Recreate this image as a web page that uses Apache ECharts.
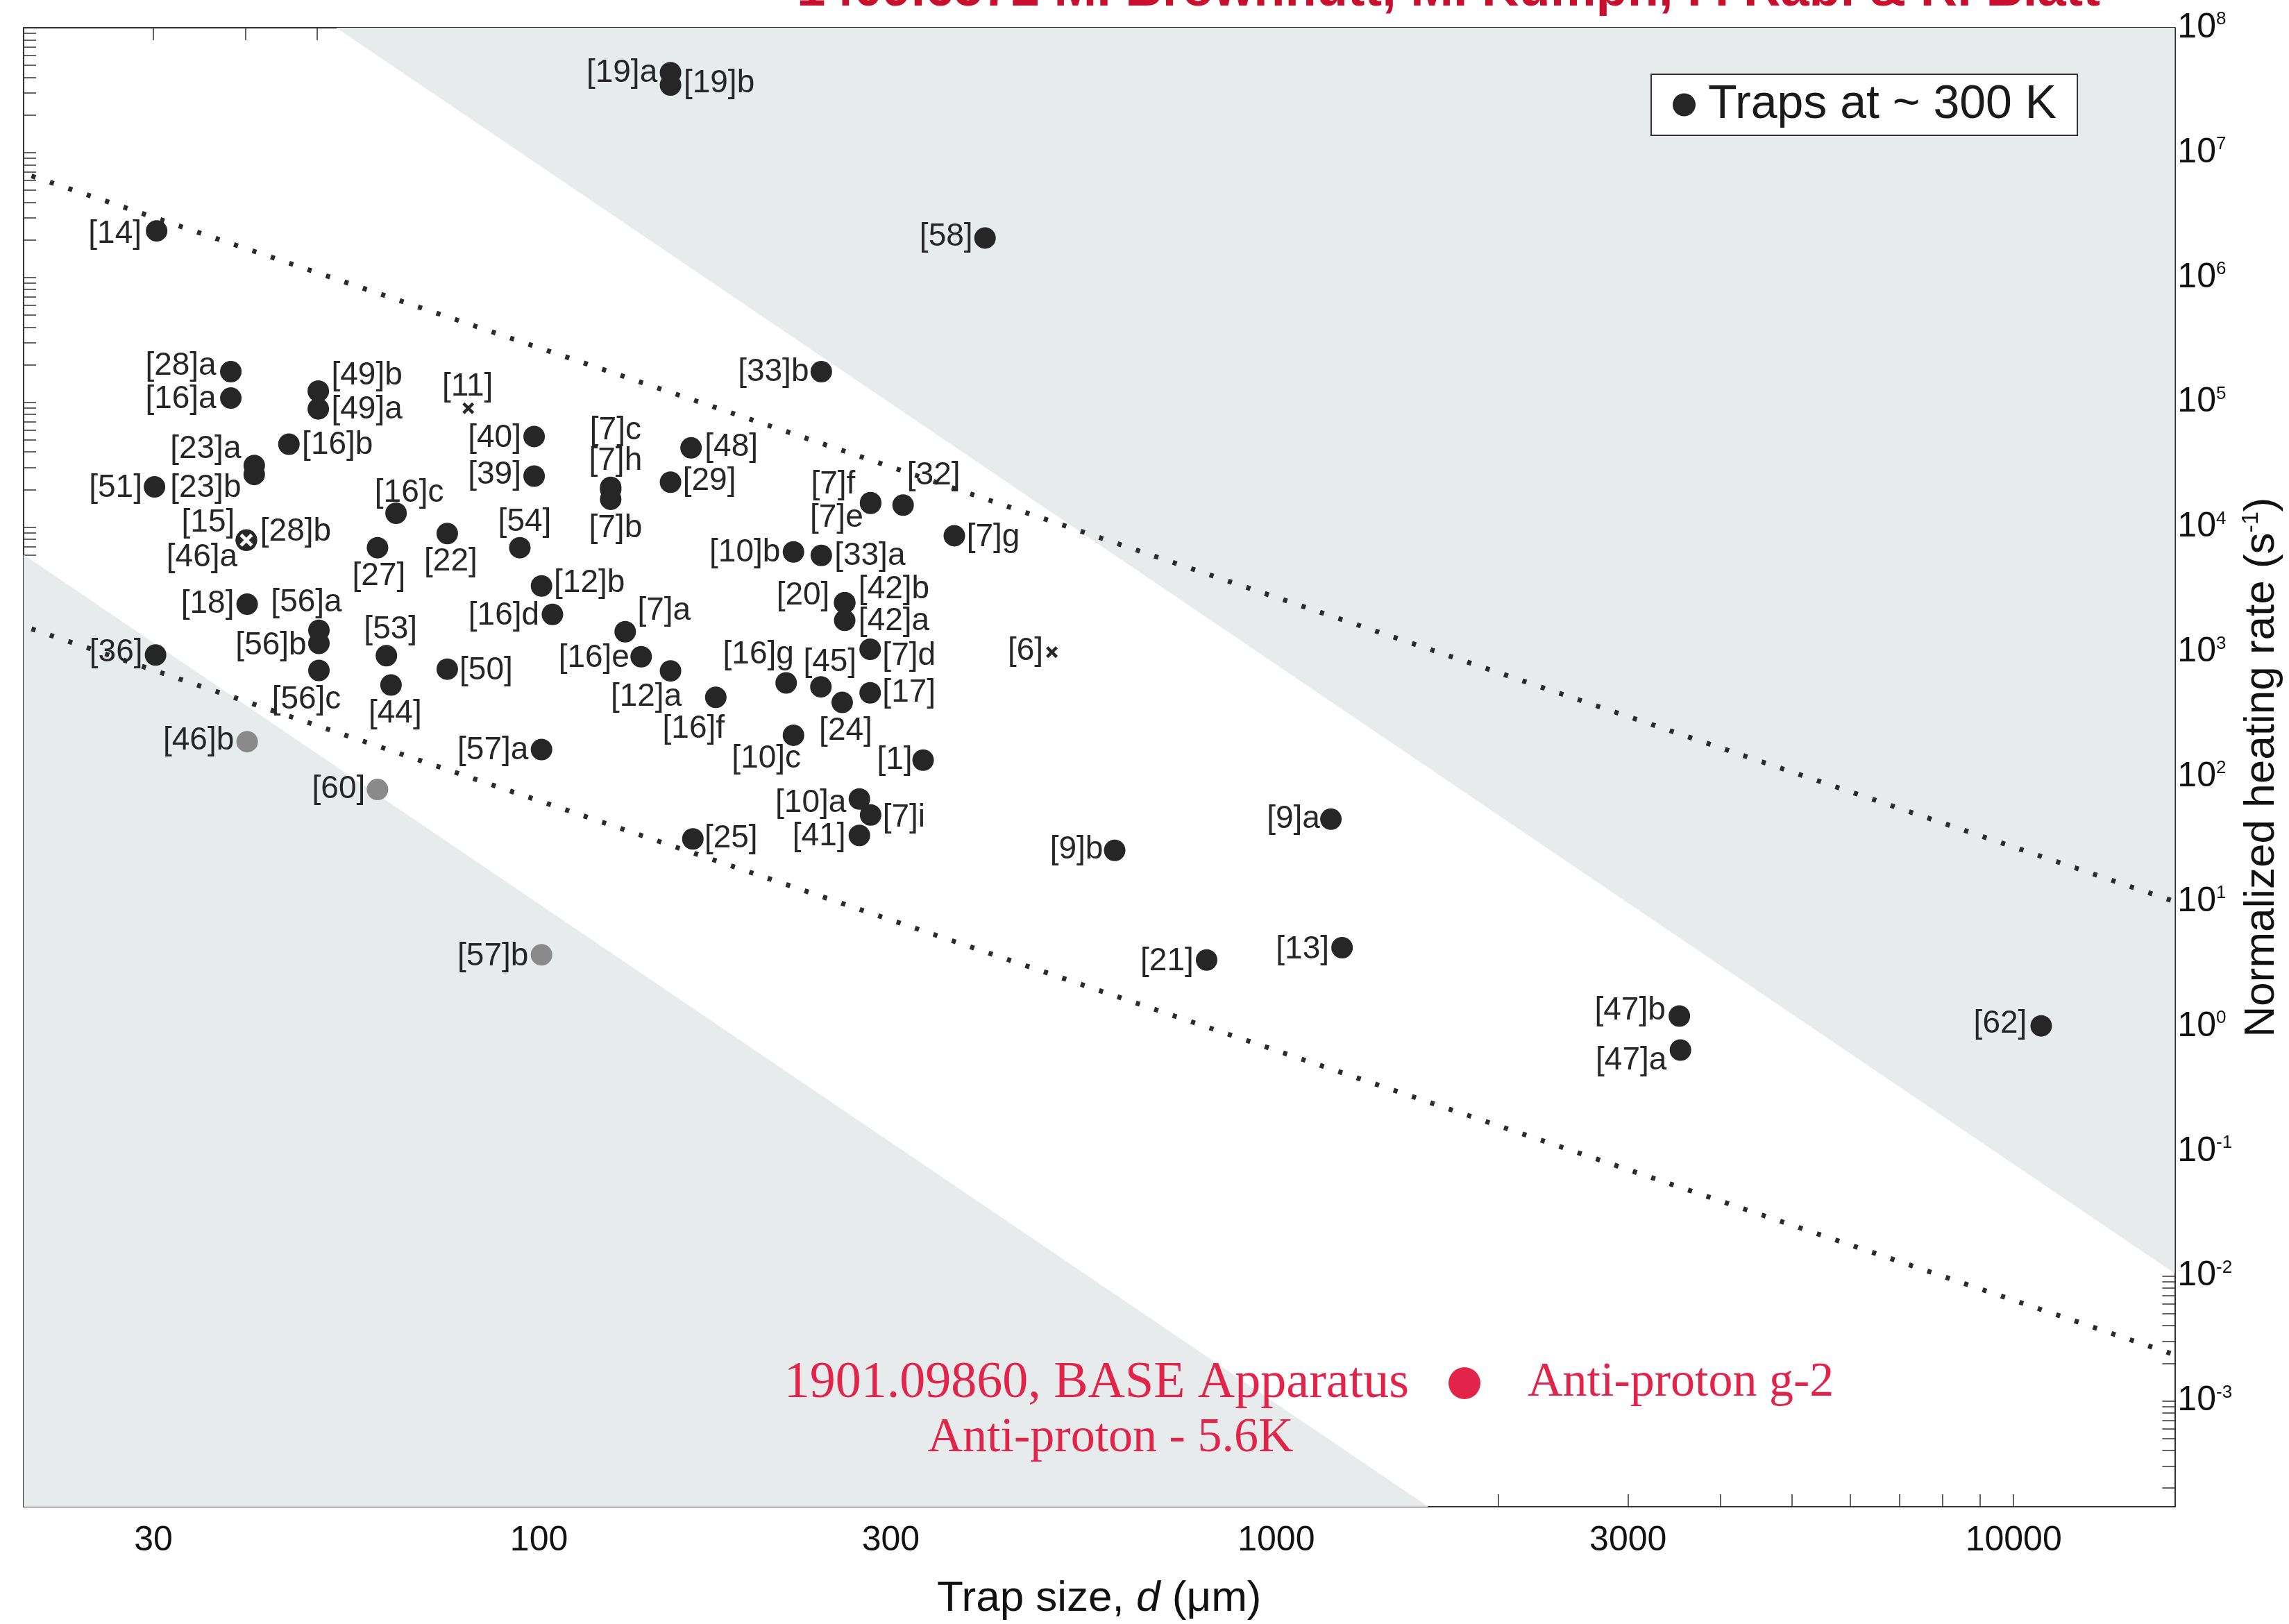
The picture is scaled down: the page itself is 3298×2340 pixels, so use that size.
<!DOCTYPE html>
<html>
<head>
<meta charset="utf-8">
<title>Normalized heating rate vs trap size</title>
<script src="https://cdn.jsdelivr.net/npm/echarts@6/dist/echarts.min.js"></script>
<style>
html,body{margin:0;padding:0;background:#fff;}
#chart{width:3298px;height:2340px;}
</style>
</head>
<body>
<div id="chart"></div>
<script>
// axis ranges: trap size d (um), heating rate (1/s)
var xMin = 20, xMax = 16540;
var yMin = 1.42e-4, yMax = 1e8;
var xLabelVals = [30, 100, 300, 1000, 3000, 10000];
var yLabelPowers = [-3, -2, -1, 0, 1, 2, 3, 4, 5, 6, 7, 8];

// traps at ~300 K (dark dots)
var trapNames = ['[19]a','[19]b','[14]','[58]','[28]a','[16]a','[49]b','[49]a','[33]b','[40]',
	'[16]b','[48]','[23]a','[23]b','[39]','[29]','[51]','[7]c','[7]h','[7]b',
	'[7]f','[7]e','[32]','[16]c','[22]','[7]g','[28]b','[46]a','[27]','[54]',
	'[10]b','[33]a','[12]b','[18]','[20]','[42]b','[16]d','[42]a','[56]a','[7]a',
	'[56]b','[7]d','[36]','[53]','[16]e','[50]','[56]c','[12]a','[16]g','[44]',
	'[45]','[17]','[16]f','[24]','[10]c','[57]a','[1]','[10]a','[7]i','[9]a',
	'[41]','[25]','[9]b','[13]','[21]','[47]b','[62]','[47]a'];
var trapSizes = [150.8,150.8,30.3,402.7,38.2,38.2,50.2,50.2,241.5,98.5,
	45.8,160.8,41.1,41.1,98.5,150.8,30.1,125.1,125.1,125.1,
	281.7,281.7,311.8,64.0,75.1,365.9,40.1,40.1,60.4,94.2,
	221.4,241.5,100.8,40.2,259.8,259.8,104.3,259.8,50.3,130.9,
	50.3,281.3,30.2,62.1,137.6,75.1,50.3,150.8,216.4,63.0,
	241.2,281.3,173.7,257.8,221.4,100.8,331.9,272.0,281.7,1186,
	272.0,161.7,603.7,1228,804.4,3521,10900,3533];
var trapRates = [4.37e7,3.48e7,2.36e6,2.07e6,1.76e5,1.08e5,1.23e5,8.85e4,1.76e5,5.32e4,
	4.62e4,4.31e4,3.11e4,2.64e4,2.56e4,2.29e4,2.10e4,2.08e4,2.00e4,1.67e4,
	1.57e4,1.55e4,1.50e4,1.29e4,8.88e3,8.53e3,7.85e3,7.85e3,6.84e3,6.84e3,
	6.32e3,5.93e3,3.38e3,2.41e3,2.48e3,2.48e3,2.00e3,1.79e3,1.49e3,1.45e3,
	1.17e3,1.05e3,946,933,916,728,710,705,565,543,
	525,470,433,394,215,165,136,66.3,49.4,45.7,
	33.9,31.8,25.7,4.27,3.40,1.21,1.01,0.646];

// grey dots
var greyNames = ['[46]b','[60]','[57]b'];
var greySizes = [40.2, 60.4, 100.8];
var greyRates = [191, 79.0, 3.75];

// crosses
var crossNames = ['[11]','[6]'];
var crossSizes = [80.2, 496.2];
var crossRates = [8.96e4, 996];
var whiteCrossNames = ['[15]'];
var whiteCrossSizes = [40.1];
var whiteCrossRates = [7.85e3];

// shaded regions (~d^-4) and dotted guides (~d^-2)
var upperBandSizes = [53.1, 16540];
var upperBandRates = [1e8, 0.0105];
var lowerBandSizes = [20, 1608];
var lowerBandRates = [6000, 1.42e-4];
var upperGuideSizes = [20.5, 16540];
var upperGuideRates = [6.5e6, 10];
var lowerGuideSizes = [20.5, 16540];
var lowerGuideRates = [1530, 2.34e-3];

// label centre relative to marker centre (px)
var labelOffsets = {
	'[19]a':[-70,1],'[19]b':[70,-2],'[14]':[-60,5],'[58]':[-56,-2],'[28]a':[-72,-8],
	'[16]a':[-72,2],'[49]b':[70,-22],'[49]a':[70,1],'[33]b':[-69,1],'[40]':[-57,2],
	'[16]b':[70,1],'[48]':[58,-1],'[23]a':[-70,-24],'[23]b':[-70,20],'[39]':[-57,-2],
	'[29]':[56,-1],'[51]':[-56,2],'[7]c':[7,-82],'[7]h':[7,-41],'[7]b':[7,42],
	'[7]f':[-54,-26],'[7]e':[-49,21],'[32]':[44,-42],'[16]c':[19,-29],'[22]':[5,41],
	'[7]g':[56,2],'[28]b':[71,-12],'[46]a':[-64,25],'[27]':[2,41],'[54]':[7,-37],
	'[10]b':[-70,1],'[33]a':[70,1],'[12]b':[69,-4],'[18]':[-57,0],'[20]':[-60,-10],
	'[42]b':[71,-19],'[16]d':[-70,2],'[42]a':[71,1],'[56]a':[-18,-40],'[7]a':[56,-30],
	'[56]b':[-69,3],'[7]d':[56,10],'[36]':[-57,-3],'[53]':[6,-37],'[16]e':[-68,2],
	'[50]':[56,2],'[56]c':[-18,42],'[12]a':[-35,38],'[16]g':[-40,-41],'[44]':[6,41],
	'[45]':[13,-35],'[17]':[56,0],'[16]f':[-32,46],'[24]':[5,41],'[10]c':[-39,34],
	'[57]a':[-70,1],'[1]':[-41,0],'[10]a':[-70,6],'[7]i':[48,4],'[9]a':[-54,0],
	'[41]':[-58,2],'[25]':[55,0],'[9]b':[-55,-1],'[13]':[-57,3],'[21]':[-57,2],
	'[47]b':[-71,-8],'[62]':[-59,-3],'[47]a':[-71,15],
	'[46]b':[-70,-1],'[60]':[-56,0],'[57]b':[-70,3],
	'[11]':[-1,-31],'[6]':[-38,-1],'[15]':[-55,-25]
};

var FONT = 'Liberation Sans';
var INK = '#262626';
var crossPath = 'path://M3,0L8,5L13,0L16,3L11,8L16,13L13,16L8,11L3,16L0,13L5,8L0,3Z';

function lg(v){
	return Math.log10(v);
}
function buildPoints(names, sizes, rates){
	var out = [];
	for(var i=0; i<names.length; i++){
		out.push({
			name: names[i],
			value: [lg(sizes[i]), lg(rates[i])],
			label: {offset: labelOffsets[names[i]] || [0,0]}
		});
	}
	return out;
}
function buildLine(sizes, rates){
	var out = [];
	for(var i=0; i<sizes.length; i++){
		out.push([lg(sizes[i]), lg(rates[i])]);
	}
	return out;
}

// tick positions in log space
var xTickVals = [];
for(var n=1; n<=4; n++){
	for(var k=1; k<=9; k++){
		var v = k*Math.pow(10,n);
		if(v>=xMin && v<=xMax){ xTickVals.push(lg(v)); }
	}
}
var xLabelPos = xLabelVals.map(lg);
var yTickVals = [];
for(var p=-4; p<=8; p++){
	for(var k2=1; k2<=9; k2++){
		var w = k2*Math.pow(10,p);
		if(w>=yMin && w<=yMax*1.0001){ yTickVals.push(lg(w)); }
		if(p==8){ break; }
	}
}

var pointLabel = {
	show: true,
	position: 'inside',
	formatter: '{b}',
	fontFamily: FONT,
	fontSize: 46,
	color: INK,
	align: 'center',
	verticalAlign: 'middle'
};

function xAxisCfg(pos){
	var a = {
		type: 'value',
		position: pos,
		min: lg(xMin),
		max: lg(xMax),
		splitLine: {show:false},
		axisLine: {show:true, onZero:false, lineStyle:{color:'#333', width:2}},
		axisTick: {show:true, inside:true, length:18, customValues:xTickVals, lineStyle:{color:'#333', width:1.5}},
		axisLabel: {show:false}
	};
	if(pos=='bottom'){
		a.axisLabel = {
			show: true,
			customValues: xLabelPos,
			margin: 24,
			fontFamily: FONT,
			fontSize: 50,
			color: '#111',
			formatter: function(v){ return String(Math.round(Math.pow(10,v))); }
		};
		a.name = '{a|Trap size, }{i|d}{a| (μm)}';
		a.nameLocation = 'middle';
		a.nameGap = 98;
		a.nameTextStyle = {
			rich: {
				a: {fontFamily:FONT, fontSize:62, color:'#111', lineHeight:70},
				i: {fontFamily:FONT, fontSize:62, color:'#111', fontStyle:'italic', lineHeight:70}
			}
		};
	}
	return a;
}
function yAxisCfg(pos){
	var a = {
		type: 'value',
		position: pos,
		min: lg(yMin),
		max: lg(yMax),
		splitLine: {show:false},
		axisLine: {show:true, onZero:false, lineStyle:{color:'#333', width:2}},
		axisTick: {show:true, inside:true, length:18, customValues:yTickVals, lineStyle:{color:'#333', width:1.5}},
		axisLabel: {show:false}
	};
	if(pos=='right'){
		a.axisLabel = {
			show: true,
			customValues: yLabelPowers,
			margin: 4,
			formatter: function(v){ return '{b|10}{s|' + Math.round(v) + '}'; },
			rich: {
				b: {fontFamily:FONT, fontSize:50, color:'#111', lineHeight:50},
				s: {fontFamily:FONT, fontSize:26, color:'#111', lineHeight:26, verticalAlign:'top'}
			}
		};
		a.name = '{a|Normalized heating rate (s}{s|-1}{a|)}';
		a.nameLocation = 'middle';
		a.nameRotate = 90;
		a.nameGap = 90;
		a.nameTextStyle = {
			rich: {
				a: {fontFamily:FONT, fontSize:62, color:'#111', lineHeight:64},
				s: {fontFamily:FONT, fontSize:34, color:'#111', lineHeight:34, verticalAlign:'top'}
			}
		};
	}
	return a;
}

var chart = echarts.init(document.getElementById('chart'), null, {renderer:'canvas'});
var option = {
	animation: false,
	backgroundColor: '#ffffff',
	grid: {left:34, right:164, top:40, bottom:168, containLabel:false},
	legend: {
		data: [{name:'Traps at ~ 300 K', icon:'circle'}],
		left: 2379,
		top: 107,
		itemWidth: 33,
		itemHeight: 33,
		padding: [10, 30, 10, 31],
		borderColor: '#333',
		borderWidth: 2,
		backgroundColor: '#ffffff',
		selectedMode: false,
		textStyle: {fontFamily:FONT, fontSize:68, color:'#1a1a1a', padding:[0,0,0,13]}
	},
	xAxis: [xAxisCfg('bottom'), xAxisCfg('top')],
	yAxis: [yAxisCfg('right'), yAxisCfg('left')],
	graphic: [
		{type:'text', x:2087, y:-12, z:100, silent:true,
			style:{text:'1409.6572 M. Brownnutt, M. Kumph, P. Rabl & R. Blatt', font:'bold 74px "Liberation Sans"',
				fill:'#c8102e', align:'center', textAlign:'center', verticalAlign:'middle', textVerticalAlign:'middle'}},
		{type:'text', x:2030, y:1994, z:100, silent:true,
			style:{text:'1901.09860, BASE Apparatus', font:'74px "Liberation Serif"',
				fill:'#e2234a', align:'right', textAlign:'right', verticalAlign:'middle', textVerticalAlign:'middle'}},
		{type:'circle', shape:{cx:2110, cy:1993, r:23}, z:100, silent:true, style:{fill:'#e2234a'}},
		{type:'text', x:2201, y:1993, z:100, silent:true,
			style:{text:'Anti-proton g-2', font:'70px "Liberation Serif"',
				fill:'#e2234a', align:'left', textAlign:'left', verticalAlign:'middle', textVerticalAlign:'middle'}},
		{type:'text', x:1600, y:2073, z:100, silent:true,
			style:{text:'Anti-proton - 5.6K', font:'70px "Liberation Serif"',
				fill:'#e2234a', align:'center', textAlign:'center', verticalAlign:'middle', textVerticalAlign:'middle'}}
	],
	series: [
		{
			name: 'upperBand', type: 'line', silent: true, symbol: 'none', z: 1,
			data: buildLine(upperBandSizes, upperBandRates),
			lineStyle: {width: 0},
			areaStyle: {color: '#e8ebec', opacity: 1, origin: 'end'}
		},
		{
			name: 'lowerBand', type: 'line', silent: true, symbol: 'none', z: 1,
			data: buildLine(lowerBandSizes, lowerBandRates),
			lineStyle: {width: 0},
			areaStyle: {color: '#e8ebec', opacity: 1, origin: 'start'}
		},
		{
			name: 'upperGuide', type: 'line', silent: true, symbol: 'none', z: 2,
			data: buildLine(upperGuideSizes, upperGuideRates),
			lineStyle: {color: '#2b2b2b', width: 7, type: [6, 22], cap: 'butt'}
		},
		{
			name: 'lowerGuide', type: 'line', silent: true, symbol: 'none', z: 2,
			data: buildLine(lowerGuideSizes, lowerGuideRates),
			lineStyle: {color: '#2b2b2b', width: 7, type: [6, 22], cap: 'butt'}
		},
		{
			name: 'Traps at ~ 300 K', type: 'scatter', z: 3,
			symbol: 'circle', symbolSize: 31,
			itemStyle: {color: INK, opacity: 1},
			label: pointLabel,
			data: buildPoints(trapNames, trapSizes, trapRates)
		},
		{
			name: 'grey', type: 'scatter', z: 3,
			symbol: 'circle', symbolSize: 31,
			itemStyle: {color: '#8a8a8a', opacity: 1},
			label: pointLabel,
			data: buildPoints(greyNames, greySizes, greyRates)
		},
		{
			name: 'cross', type: 'scatter', z: 3,
			symbol: crossPath, symbolSize: 17,
			itemStyle: {color: INK, opacity: 1},
			label: pointLabel,
			data: buildPoints(crossNames, crossSizes, crossRates)
		},
		{
			name: 'whiteCross', type: 'scatter', z: 4,
			symbol: crossPath, symbolSize: 19,
			itemStyle: {color: '#ffffff', opacity: 1},
			label: pointLabel,
			data: buildPoints(whiteCrossNames, whiteCrossSizes, whiteCrossRates)
		}
	]
};
chart.setOption(option);
</script>
</body>
</html>
